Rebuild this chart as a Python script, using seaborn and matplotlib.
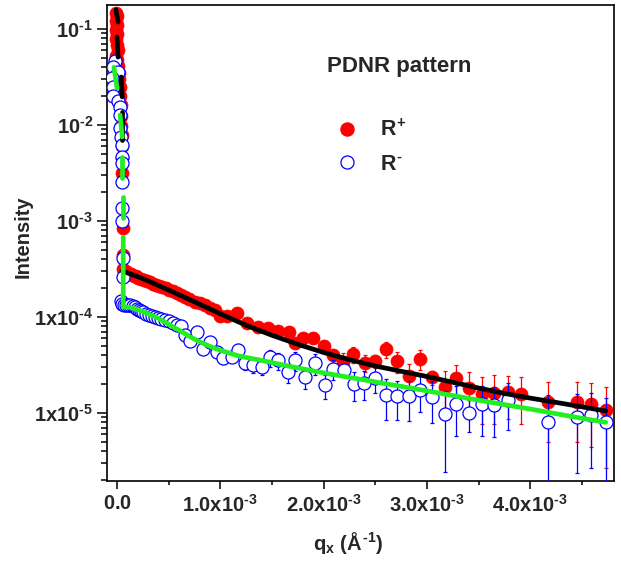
import matplotlib
matplotlib.use("Agg")
import matplotlib.pyplot as plt
from matplotlib.lines import Line2D
from matplotlib.ticker import FixedLocator, LogLocator, NullFormatter, MultipleLocator
import numpy as np
import pandas as pd
import seaborn as sb

# qx in units of 1e-3 1/A, intensity absolute
# --- R+ specular peak
q_rp_peak = [-0.01, 0.0, -0.01, 0.0, -0.01, 0.0, -0.01, 0.0, 0.01, -0.01, 0.0, 0.01, 0.02,
             0.02, 0.03, 0.03, 0.04, 0.04, 0.04, 0.045, 0.045, 0.05, 0.05, 0.055, 0.055]
I_rp_peak = [0.148, 0.135, 0.122, 0.11, 0.098, 0.088, 0.078, 0.068, 0.06, 0.052, 0.047, 0.041, 0.035,
             0.030, 0.025, 0.020, 0.016, 0.0125, 0.0098, 0.0078, 0.006, 0.0045, 0.0032, 0.00085, 0.00044]
# --- R+ diffuse
q_rp = [0.06, 0.08, 0.10, 0.12, 0.14, 0.16, 0.18, 0.20, 0.23, 0.26, 0.29, 0.32, 0.35, 0.38,
        0.41, 0.44, 0.47, 0.50, 0.54, 0.58, 0.62, 0.66, 0.70, 0.75, 0.80, 0.85, 0.90, 0.95,
        1.00, 1.06, 1.16, 1.26, 1.36, 1.46, 1.56, 1.66, 1.72, 1.80, 1.90, 2.00,
        2.09, 2.19, 2.28, 2.40, 2.50, 2.60, 2.71, 2.83, 2.93, 3.05, 3.17, 3.28, 3.41, 3.53,
        3.65, 3.78, 3.91, 4.17, 4.45, 4.59, 4.73]
I_rp = [3.16e-4, 3.02e-4, 2.92e-4, 2.82e-4, 2.79e-4, 2.69e-4, 2.66e-4, 2.57e-4, 2.51e-4, 2.43e-4,
        2.37e-4, 2.29e-4, 2.21e-4, 2.16e-4, 2.09e-4, 2.04e-4, 2.00e-4, 1.91e-4, 1.86e-4, 1.78e-4,
        1.68e-4, 1.62e-4, 1.55e-4, 1.45e-4, 1.40e-4, 1.32e-4, 1.23e-4, 1.17e-4,
        1.03e-4, 1.02e-4, 1.11e-4, 8.7e-5, 7.9e-5, 7.6e-5, 7.2e-5, 6.9e-5, 5.4e-5, 6.0e-5, 6.1e-5, 5.0e-5,
        4.02e-5, 3.40e-5, 4.12e-5, 3.32e-5, 3.48e-5, 4.65e-5, 3.48e-5, 2.43e-5, 3.65e-5, 2.37e-5,
        1.87e-5, 2.32e-5, 1.82e-5, 1.58e-5, 1.62e-5, 1.66e-5, 1.58e-5, 1.30e-5, 1.30e-5, 1.24e-5, 1.07e-5]
err_rp = [0.03, 0.03, 0.03, 0.03, 0.03, 0.03, 0.03, 0.03, 0.03, 0.03, 0.03, 0.03, 0.03, 0.03,
          0.03, 0.03, 0.03, 0.03, 0.03, 0.03, 0.03, 0.03, 0.03, 0.03, 0.03, 0.03, 0.03, 0.03,
          0.06, 0.06, 0.07, 0.08, 0.08, 0.09, 0.10, 0.10, 0.11, 0.12, 0.12, 0.13,
          0.13, 0.24, 0.19, 0.20, 0.15, 0.19, 0.25, 0.34, 0.24, 0.17, 0.47, 0.36, 0.47, 0.51,
          0.53, 0.48, 0.51, 0.62, 0.62, 0.64, 0.75]  # relative

# --- R- specular peak
q_rm_peak = [-0.02, -0.04, 0.01, -0.05, -0.04, -0.04, 0.01, 0.03, 0.03, 0.03, 0.04, 0.05, 0.05,
             0.05, 0.05, 0.05, 0.05, 0.06, 0.06]
I_rm_peak = [0.046, 0.040, 0.036, 0.031, 0.025, 0.020, 0.018, 0.0154, 0.0127, 0.0093, 0.0075, 0.0062,
             0.0046, 0.0040, 0.00255, 0.00137, 0.0010, 0.00041, 0.00026]
# --- R- diffuse
q_rm = [0.04, 0.05, 0.07, 0.09, 0.11, 0.13, 0.15, 0.17, 0.19, 0.21, 0.23, 0.25, 0.28, 0.31, 0.34,
        0.37, 0.40, 0.43, 0.46, 0.50, 0.54, 0.58, 0.62, 0.66, 0.71, 0.77, 0.83, 0.90, 0.97,
        1.03, 1.11, 1.17, 1.24, 1.32, 1.40, 1.48, 1.56, 1.65, 1.72, 1.82, 1.92, 2.01,
        2.09, 2.20, 2.29, 2.39, 2.50, 2.60, 2.71, 2.83, 2.93, 3.05, 3.17, 3.28, 3.41, 3.53,
        3.65, 3.78, 4.17, 4.45, 4.59, 4.73]
I_rm = [1.48e-4, 1.38e-4, 1.35e-4, 1.35e-4, 1.33e-4, 1.32e-4, 1.29e-4, 1.26e-4, 1.22e-4, 1.19e-4,
        1.15e-4, 1.12e-4, 1.08e-4, 1.05e-4, 1.02e-4, 1.00e-4, 9.8e-5, 9.5e-5, 9.3e-5, 9.1e-5,
        8.7e-5, 8.3e-5, 8.1e-5, 6.5e-5, 5.6e-5, 6.9e-5, 4.6e-5, 5.5e-5, 4.3e-5,
        3.7e-5, 3.85e-5, 4.5e-5, 3.3e-5, 3.16e-5, 3.0e-5, 3.8e-5, 3.55e-5, 2.66e-5, 3.55e-5,
        2.37e-5, 3.3e-5, 1.95e-5,
        2.87e-5, 2.81e-5, 2.0e-5, 2.05e-5, 2.32e-5, 1.55e-5, 1.50e-5, 1.50e-5, 1.74e-5, 1.47e-5,
        9.8e-6, 1.24e-5, 1.0e-5, 1.24e-5, 1.21e-5, 1.36e-5, 8.05e-6, 9.1e-6, 9.5e-6, 8.05e-6]
err_rm = [0.03, 0.03, 0.03, 0.03, 0.03, 0.03, 0.03, 0.03, 0.03, 0.03, 0.03, 0.03, 0.03, 0.03, 0.03,
          0.03, 0.03, 0.03, 0.03, 0.03, 0.03, 0.03, 0.03, 0.08, 0.08, 0.08, 0.08, 0.08, 0.08,
          0.12, 0.12, 0.15, 0.15, 0.18, 0.18, 0.20, 0.20, 0.22, 0.22, 0.25, 0.25, 0.28,
          0.23, 0.15, 0.34, 0.34, 0.31, 0.45, 0.44, 0.45, 0.41, 0.47, 0.75, 0.54, 0.37, 0.54,
          0.53, 0.51, 0.90, 0.74, 0.72, 0.80]  # relative

# --- fit curves (segment id splits the broken pieces near the specular peak)
fit_rp_q = [-0.01, 0.01, 0.0, 0.01, 0.04, 0.05, 0.05, 0.05,
            0.05, 0.25, 0.5, 0.75, 1.0, 1.25, 1.5, 1.75, 2.0, 2.25, 2.5, 2.75, 3.0, 3.25, 3.5,
            3.75, 4.0, 4.25, 4.5, 4.73]
fit_rp_I = [0.158, 0.118, 0.0826, 0.051, 0.0316, 0.0196, 0.0137, 0.0070,
            3.02e-4, 2.51e-4, 1.91e-4, 1.44e-4, 1.08e-4, 8.2e-5, 6.45e-5, 5.2e-5, 4.27e-5, 3.59e-5,
            3.09e-5, 2.72e-5, 2.40e-5, 2.09e-5, 1.82e-5, 1.60e-5, 1.43e-5, 1.29e-5, 1.16e-5, 1.05e-5]
fit_rp_seg = [0, 0, 1, 1, 2, 2, 3, 3] + [4] * 20

fit_rm_q = [-0.03, 0.0, 0.03, 0.05, 0.05, 0.05, 0.06, 0.06,
            0.06, 0.06, 0.13, 0.22, 0.30, 0.39, 0.47, 0.54, 0.62, 0.71, 0.79, 0.87, 0.95, 1.03,
            1.19, 1.36, 1.68, 1.99, 2.26, 2.6, 3.03, 3.5, 4.0, 4.4, 4.73]
fit_rm_I = [0.040, 0.0243, 0.0127, 0.0075, 0.00464, 0.0028, 0.00178, 0.00107,
            6.8e-4, 1.27e-4, 1.26e-4, 1.175e-4, 1.08e-4, 9.8e-5, 8.8e-5, 7.9e-5, 7.1e-5, 6.2e-5,
            5.6e-5, 5.1e-5, 4.7e-5, 4.4e-5, 3.9e-5, 3.6e-5, 3.05e-5, 2.63e-5, 2.34e-5, 2.02e-5,
            1.68e-5, 1.36e-5, 1.10e-5, 9.2e-6, 8.0e-6]
fit_rm_seg = [0, 0, 1, 1, 2, 2, 3, 3] + [4] * 25

x_ticks = [0, 1, 2, 3, 4]
x_labels = [r"$0.0$", r"$1.0\mathrm{x}10^{\text{-}3}$", r"$2.0\mathrm{x}10^{\text{-}3}$",
            r"$3.0\mathrm{x}10^{\text{-}3}$", r"$4.0\mathrm{x}10^{\text{-}3}$"]
y_ticks = [1e-5, 1e-4, 1e-3, 1e-2, 1e-1]
y_labels = [r"$1\mathrm{x}10^{\text{-}5}$", r"$1\mathrm{x}10^{\text{-}4}$", r"$10^{\text{-}3}$",
            r"$10^{\text{-}2}$", r"$10^{\text{-}1}$"]

sb.set_style("ticks")
plt.rcParams["font.family"] = ["Liberation Sans", "DejaVu Sans"]
plt.rcParams["font.weight"] = "bold"
plt.rcParams["mathtext.fontset"] = "custom"
plt.rcParams["mathtext.rm"] = "Liberation Sans:bold"
plt.rcParams["mathtext.it"] = "Liberation Sans:bold"
plt.rcParams["mathtext.bf"] = "Liberation Sans:bold"
plt.rcParams["mathtext.sf"] = "Liberation Sans:bold"

fig = plt.figure(figsize=(6.21, 5.64), dpi=100)
ax = fig.add_axes([107 / 621, 1 - 481 / 564, 507 / 621, 476 / 564])

rp = pd.DataFrame({"q": q_rp_peak + q_rp, "I": I_rp_peak + I_rp,
                   "e": [0.0] * len(q_rp_peak) + err_rp})
rm = pd.DataFrame({"q": q_rm_peak + q_rm, "I": I_rm_peak + I_rm,
                   "e": [0.0] * len(q_rm_peak) + err_rm})
rp["err"] = rp["e"] * rp["I"]
rm["err"] = rm["e"] * rm["I"]

ax.errorbar(rp["q"], rp["I"], yerr=rp["err"], fmt="none", ecolor="red", elinewidth=0.9,
            capsize=1.2, capthick=0.9, zorder=2)
sb.scatterplot(data=rp, x="q", y="I", ax=ax, color="red", edgecolor="red", linewidth=0.5,
               s=88, zorder=3, legend=False)
ax.errorbar(rm["q"], rm["I"], yerr=rm["err"], fmt="none", ecolor="blue", elinewidth=0.9,
            capsize=1.2, capthick=0.9, zorder=4)
sb.scatterplot(data=rm, x="q", y="I", ax=ax, facecolor="white", edgecolor="blue", linewidth=0.9,
               s=88, zorder=5, legend=False)

fit_rp = pd.DataFrame({"q": fit_rp_q, "I": fit_rp_I, "seg": fit_rp_seg})
fit_rm = pd.DataFrame({"q": fit_rm_q, "I": fit_rm_I, "seg": fit_rm_seg})
sb.lineplot(data=fit_rp, x="q", y="I", units="seg", estimator=None, sort=False, color="black",
            lw=3.4, ax=ax, zorder=6, legend=False)
sb.lineplot(data=fit_rm, x="q", y="I", units="seg", estimator=None, sort=False, color="#22ee22",
            lw=3.4, ax=ax, zorder=7, legend=False)

ax.set_yscale("log")
ax.set_xlim(-0.097, 4.81)
ax.set_ylim(10 ** -5.708, 10 ** -0.75)

ax.xaxis.set_major_locator(FixedLocator(x_ticks))
ax.set_xticklabels(x_labels)
ax.xaxis.set_minor_locator(MultipleLocator(0.5))
ax.yaxis.set_major_locator(FixedLocator(y_ticks))
ax.set_yticklabels(y_labels)
ax.yaxis.set_minor_locator(LogLocator(base=10, subs=np.arange(2, 10)))
ax.yaxis.set_minor_formatter(NullFormatter())

ax.tick_params(axis="both", which="both", direction="out", top=False, right=False,
               labelsize=14.5, width=1.1, color="black")
ax.tick_params(axis="x", which="major", length=5.5, pad=4)
ax.tick_params(axis="x", which="minor", length=3)
ax.tick_params(axis="y", which="major", length=7, pad=3)
ax.tick_params(axis="y", which="minor", length=4)
for sp in ax.spines.values():
    sp.set_linewidth(1.2)
    sp.set_color("black")

ax.set_ylabel("Intensity", fontsize=14.5, fontweight="bold")
ax.yaxis.set_label_coords(-0.146, 0.513)
ax.set_xlabel(r"$q_x\ (Å^{\text{-}1})$", fontsize=14.5)
ax.xaxis.set_label_coords(0.475, -0.103)

ax.text(0.576, 0.870, "PDNR pattern", transform=ax.transAxes, ha="center", va="center",
        fontsize=16, fontweight="bold")
handles = [Line2D([], [], ls="", marker="o", markersize=9.4, color="red", mec="red"),
           Line2D([], [], ls="", marker="o", markersize=9.4, mfc="white", mec="blue", mew=0.9)]
ax.legend(handles, [r"$R^{+}$", r"$R^{\text{-}}$"], loc="upper left", bbox_to_anchor=(0.4517, 0.759),
          frameon=False, borderpad=0, borderaxespad=0, handlelength=1.0, handletextpad=1.05,
          labelspacing=0.58, prop={"size": 15.5, "weight": "bold"})

fig.savefig("out.png", dpi=100)
